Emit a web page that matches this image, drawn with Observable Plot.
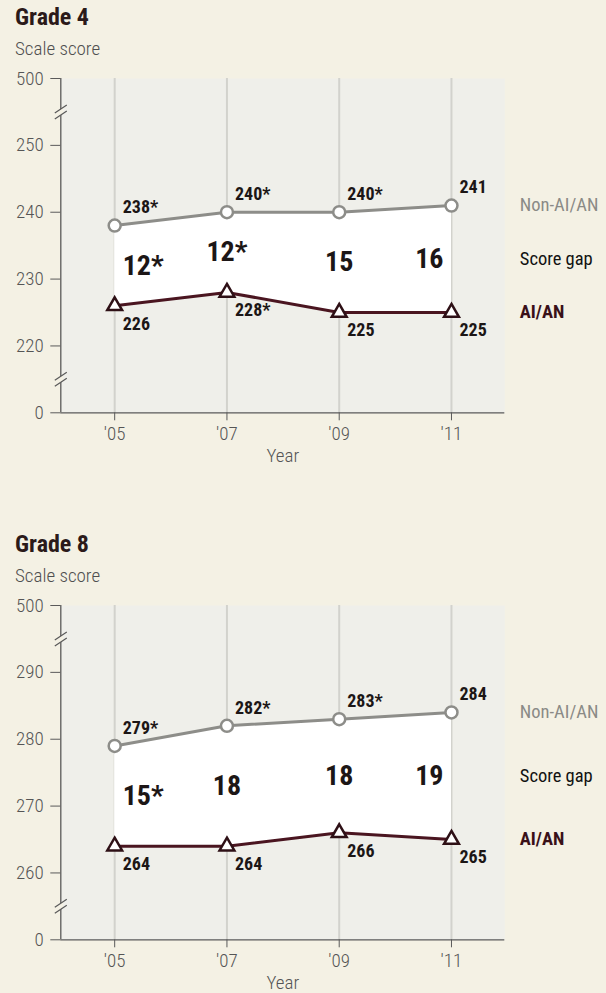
<!DOCTYPE html>
<html>
<head>
<meta charset="utf-8">
<script src="https://cdn.jsdelivr.net/npm/d3@7"></script>
<script src="https://cdn.jsdelivr.net/npm/@observablehq/plot@0.6"></script>
<style>
  html, body { margin: 0; padding: 0; background: #f4f1e4; }
  body { width: 606px; height: 993px; position: relative; overflow: hidden;
         font-family: 'Liberation Sans Narrow', 'Roboto Condensed', 'DejaVu Sans Condensed', 'DejaVu Sans', sans-serif;
         font-stretch: condensed; }
  svg text { font-stretch: condensed; }
  .block { position: absolute; left: 0; width: 606px; height: 527px; }
  .title { position: absolute; left: 15px; top: 5px; font-size: 24px; line-height: 24px; font-weight: bold; color: #2b1a1a; }
  .sub { position: absolute; left: 15px; top: 39px; font-size: 19px; line-height: 19px; font-weight: 300; color: #4f4f4f; }
  .chart { position: absolute; left: 0; top: 66px; }
  .chart svg { background: transparent; overflow: visible; }
</style>
</head>
<body>
<div class="block" style="top:0px">
  <div class="title">Grade 4</div>
  <div class="sub">Scale score</div>
  <div class="chart" id="g4"></div>
</div>
<div class="block" style="top:527px">
  <div class="title">Grade 8</div>
  <div class="sub">Scale score</div>
  <div class="chart" id="g8"></div>
</div>
<script>
const years = [2005, 2007, 2009, 2011];
const yearLabels = ["'05", "'07", "'09", "'11"];
const legendLabels = ["Non-AI/AN", "Score gap", "AI/AN"];

const g4NonAian = [238, 240, 240, 241];
const g4NonAianLabels = ["238*", "240*", "240*", "241"];
const g4Aian = [226, 228, 225, 225];
const g4AianLabels = ["226", "228*", "225", "225"];
const g4GapLabels = ["12*", "12*", "15", "16"];
const g4YTicks = [210, 220, 230, 240, 250, 260];
const g4YTickLabels = ["0", "220", "230", "240", "250", "500"];

const g8NonAian = [279, 282, 283, 284];
const g8NonAianLabels = ["279*", "282*", "283*", "284"];
const g8Aian = [264, 264, 266, 265];
const g8AianLabels = ["264", "264", "266", "265"];
const g8GapLabels = ["15*", "18", "18", "19"];
const g8YTicks = [250, 260, 270, 280, 290, 300];
const g8YTickLabels = ["0", "260", "270", "280", "290", "500"];

const FONT = "'Liberation Sans Narrow', 'Roboto Condensed', 'DejaVu Sans Condensed', 'DejaVu Sans', sans-serif";
const BG = "#f4f1e4";
const GREY = "#8d8d89";
const MAROON = "#4a1520";
const INK = "#1c1616";
const AXIS = "#5a5a5a";

// axis-break glyphs (custom symbols)
const breakLines = {
  draw(ctx) {
    ctx.moveTo(-6, 1); ctx.lineTo(6, -7);
    ctx.moveTo(-6, 7); ctx.lineTo(6, -1);
  }
};
const breakGap = {
  draw(ctx) {
    ctx.moveTo(-2.5, -1.3); ctx.lineTo(2.5, -4.7); ctx.lineTo(2.5, 1.3); ctx.lineTo(-2.5, 4.7); ctx.closePath();
  }
};

function chart(nonV, nonL, aiV, aiL, gapL, yTicks, yTickLabels) {
  const xDomain = [2004.04, 2011.95];
  const yDomain = [yTicks[0], yTicks[yTicks.length - 1]];
  const n = years.length;
  const rows = years.map((year, i) => ({
    year, non: nonV[i], ai: aiV[i], nonLabel: nonL[i], aiLabel: aiL[i], gap: gapL[i],
    mid: (nonV[i] + aiV[i]) / 2,
    anchor: i === 0 ? "start" : i === n - 1 ? "end" : "middle"
  }));
  const tickLabel = new Map(yTicks.map((t, i) => [t, yTickLabels[i]]));
  const yearLabel = new Map(years.map((y, i) => [y, yearLabels[i]]));
  const breaks = [yDomain[0] + 5, yDomain[1] - 5];
  const last = rows[n - 1];
  const legend = [
    {y: last.non, label: legendLabels[0], fill: "#8a8a86", weight: "normal"},
    {y: last.mid, label: legendLabels[1], fill: "#111", weight: "normal"},
    {y: last.ai, label: legendLabels[2], fill: "#3a1018", weight: "bold"}
  ];
  const textBase = {fontFamily: FONT};
  return Plot.plot({
    width: 606,
    height: 396,
    marginLeft: 60.3,
    marginRight: 101.7,
    marginTop: 12,
    marginBottom: 49.7,
    x: {domain: xDomain},
    y: {domain: yDomain},
    style: {fontFamily: FONT, fontSize: "18px", color: AXIS, background: "transparent", overflow: "visible"},
    marks: [
      Plot.frame({fill: "#efefea", stroke: null}),
      Plot.ruleX(years, {stroke: "#d2d2cd", strokeWidth: 2}),
      Plot.areaY(rows, {x: "year", y1: "ai", y2: "non", fill: "#ffffff"}),
      Plot.ruleX([xDomain[0]], {stroke: AXIS, strokeWidth: 1.3}),
      Plot.ruleY([yDomain[0]], {stroke: AXIS, strokeWidth: 1.3}),
      Plot.dot(breaks, {x: () => xDomain[0], y: d => d, symbol: breakGap, fill: BG, stroke: null}),
      Plot.dot(breaks, {x: () => xDomain[0], y: d => d, symbol: breakLines, fill: "none", stroke: AXIS, strokeWidth: 1.2}),
      Plot.axisY({ticks: yTicks, tickFormat: d => tickLabel.get(d), tickSize: 10, tickPadding: 7, label: null, fontSize: 19, fontWeight: 300, fill: "#555"}),
      Plot.axisX({ticks: years, tickFormat: d => yearLabel.get(d), tickSize: 8, tickPadding: 6, label: null, fontSize: 19, fontWeight: 300, fill: "#555"}),
      Plot.text(["Year"], {...textBase, frameAnchor: "bottom", lineAnchor: "middle", dy: 43, fontSize: 19, fontWeight: 300, fill: "#555"}),
      Plot.line(rows, {x: "year", y: "non", stroke: GREY, strokeWidth: 3}),
      Plot.line(rows, {x: "year", y: "ai", stroke: MAROON, strokeWidth: 3}),
      Plot.dot(rows, {x: "year", y: "non", r: 6, fill: "#ffffff", stroke: GREY, strokeWidth: 2.5}),
      Plot.dot(rows, {x: "year", y: "ai", symbol: "triangle", r: 5.5, fill: "#ffffff", stroke: "#2e1016", strokeWidth: 2.5}),
      Plot.text(rows, {...textBase, x: "year", y: "non", text: "nonLabel", textAnchor: "start", dx: 8, dy: -18, fontWeight: "bold", fontSize: 18, fill: INK}),
      Plot.text(rows, {...textBase, x: "year", y: "ai", text: "aiLabel", textAnchor: "start", dx: 8, dy: 18, fontWeight: "bold", fontSize: 18, fill: INK}),
      ...["start", "middle", "end"].map(a =>
        Plot.text(rows, {...textBase, filter: d => d.anchor === a, x: "year", y: "mid", text: "gap",
          textAnchor: a, dx: a === "start" ? 8 : a === "end" ? -8 : 0, fontWeight: "bold", fontSize: 28, fill: INK})),
      ...legend.map(l =>
        Plot.text([l], {...textBase, y: "y", text: "label", frameAnchor: "right", textAnchor: "start", dx: 15,
          fontSize: 18.5, fontWeight: l.weight, fill: l.fill}))
    ]
  });
}

document.getElementById("g4").append(chart(g4NonAian, g4NonAianLabels, g4Aian, g4AianLabels, g4GapLabels, g4YTicks, g4YTickLabels));
document.getElementById("g8").append(chart(g8NonAian, g8NonAianLabels, g8Aian, g8AianLabels, g8GapLabels, g8YTicks, g8YTickLabels));
</script>
</body>
</html>
